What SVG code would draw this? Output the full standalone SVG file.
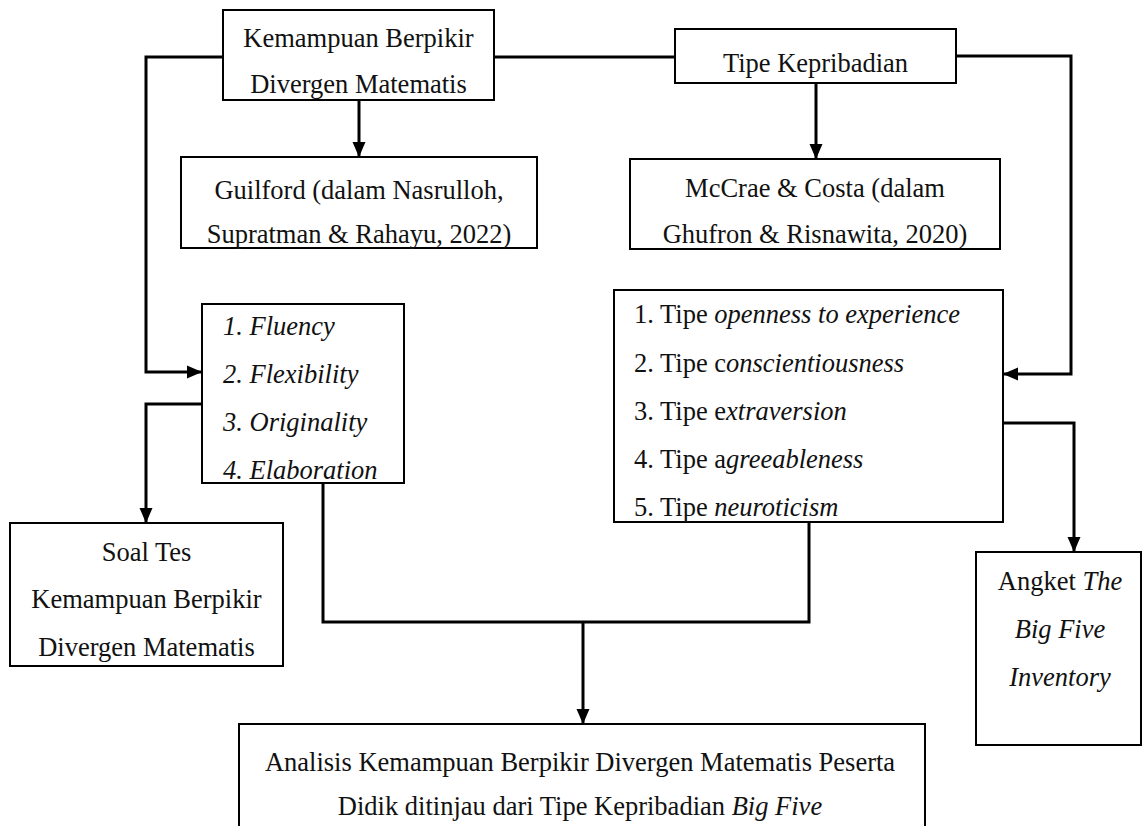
<svg xmlns="http://www.w3.org/2000/svg" width="1144" height="826" viewBox="0 0 1144 826">
<defs>
<style>
.box{fill:#fff;stroke:#000;stroke-width:2}
.t{font-family:"Liberation Serif","Times New Roman",serif;font-size:26.5px;fill:#111}
.c{text-anchor:middle}
.i{font-style:italic}
.ln{fill:none;stroke:#000;stroke-width:3}
</style>
<marker id="ah" markerUnits="userSpaceOnUse" markerWidth="16" markerHeight="14" refX="15" refY="7" orient="auto">
<path d="M0,0.5 L15,7 L0,13.5 z" fill="#000"/>
</marker>
</defs>
<rect width="1144" height="826" fill="#fff"/>

<g id="connectors">
<polyline class="ln" points="223,57 146,57 146,372 202,372" marker-end="url(#ah)"/>
<line class="ln" x1="494" y1="57" x2="675" y2="57"/>
<polyline class="ln" points="956,56 1071,56 1071,374 1003,374" marker-end="url(#ah)"/>
<line class="ln" x1="359" y1="100" x2="359" y2="157" marker-end="url(#ah)"/>
<line class="ln" x1="816" y1="83" x2="816" y2="159" marker-end="url(#ah)"/>
<polyline class="ln" points="202,404 146,404 146,523" marker-end="url(#ah)"/>
<polyline class="ln" points="1003,423 1074,423 1074,552" marker-end="url(#ah)"/>
<polyline class="ln" points="323,483 323,622 809,622 809,522"/>
<line class="ln" x1="583" y1="622" x2="583" y2="724" marker-end="url(#ah)"/>
</g>

<g id="node-kemampuan">
<rect class="box" x="223" y="10" width="271" height="90"/>
<text class="t c" x="358.5" y="47">Kemampuan Berpikir</text>
<text class="t c" x="358.5" y="93">Divergen Matematis</text>
</g>

<g id="node-tipe">
<rect class="box" x="675" y="29" width="281" height="54"/>
<text class="t c" x="815.5" y="72">Tipe Kepribadian</text>
</g>

<g id="node-guilford">
<rect class="box" x="181" y="157" width="356" height="91"/>
<text class="t c" x="359" y="199">Guilford (dalam Nasrulloh,</text>
<text class="t c" x="359" y="243">Supratman &amp; Rahayu, 2022)</text>
</g>

<g id="node-mccrae">
<rect class="box" x="630" y="159" width="370" height="90"/>
<text class="t c" x="815" y="197">McCrae &amp; Costa (dalam</text>
<text class="t c" x="815" y="243">Ghufron &amp; Risnawita, 2020)</text>
</g>

<g id="node-indikator">
<rect class="box" x="202" y="304" width="202" height="179"/>
<text class="t i" x="223" y="335">1. Fluency</text>
<text class="t i" x="223" y="383">2. Flexibility</text>
<text class="t i" x="223" y="431">3. Originality</text>
<text class="t i" x="223" y="479">4. Elaboration</text>
</g>

<g id="node-tipe-list">
<rect class="box" x="614" y="290" width="389" height="232"/>
<text class="t" x="634" y="323">1. Tipe <tspan class="i">openness to experience</tspan></text>
<text class="t" x="634" y="372">2. Tipe c<tspan class="i">onscientiousness</tspan></text>
<text class="t" x="634" y="420">3. Tipe e<tspan class="i">xtraversion</tspan></text>
<text class="t" x="634" y="468">4. Tipe a<tspan class="i">greeableness</tspan></text>
<text class="t" x="634" y="516">5. Tipe <tspan class="i">neuroticism</tspan></text>
</g>

<g id="node-soal">
<rect class="box" x="10" y="523" width="273" height="143"/>
<text class="t c" x="146.5" y="561">Soal Tes</text>
<text class="t c" x="146.5" y="608">Kemampuan Berpikir</text>
<text class="t c" x="146.5" y="656">Divergen Matematis</text>
</g>

<g id="node-angket">
<rect class="box" x="976" y="552" width="165" height="193"/>
<text class="t c" x="1060" y="590">Angket <tspan class="i">The</tspan></text>
<text class="t c i" x="1060" y="638">Big Five</text>
<text class="t c i" x="1060" y="686">Inventory</text>
</g>

<g id="node-analisis">
<rect class="box" x="239" y="724" width="686" height="130"/>
<text class="t c" x="580" y="771">Analisis Kemampuan Berpikir Divergen Matematis Peserta</text>
<text class="t c" x="580" y="815">Didik ditinjau dari Tipe Kepribadian <tspan class="i">Big Five</tspan></text>
</g>
</svg>
